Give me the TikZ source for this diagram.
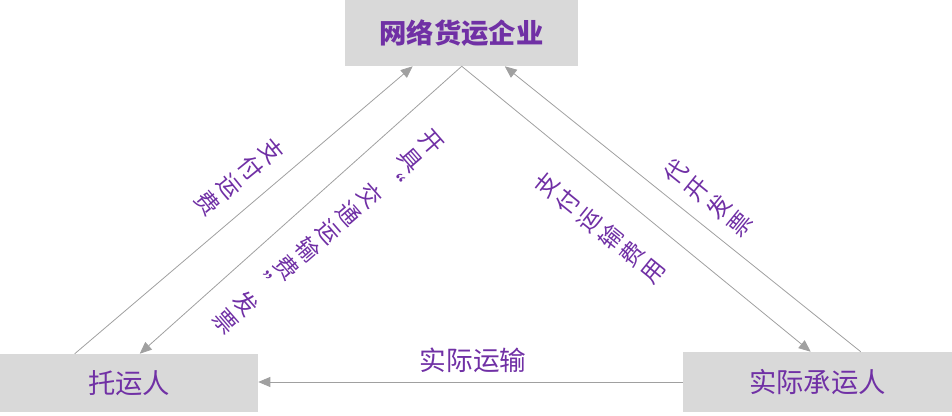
\documentclass[tikz,border=0pt]{standalone}
\usepackage{fontspec}
\newfontfamily\cjk{Noto Sans CJK SC}
\usetikzlibrary{arrows.meta,calc}
\definecolor{txt}{RGB}{112,48,165}
\definecolor{boxfill}{RGB}{217,217,217}
\definecolor{ln}{RGB}{160,160,160}
\begin{document}
\begin{tikzpicture}[x=0.75pt,y=-0.75pt,
  box/.style={fill=boxfill, draw=none, inner sep=0pt, text=txt,
    font=\cjk\fontsize{20.5}{24}\selectfont},
  link/.style={draw=ln, line width=0.6pt,
    -{Triangle[length=9pt,width=7.5pt,fill=ln]}},
  vlab/.style={text=txt, align=center, inner sep=0pt,
    font=\cjk\fontsize{17.5}{20.5}\selectfont},
  hlab/.style={text=txt, inner sep=0pt,
    font=\cjk\fontsize{20}{24}\selectfont}]
\useasboundingbox (0,0) rectangle (952,416);
% boxes
\node[box, minimum width=174.75pt, minimum height=49.5pt] (top) at (461.5,33) {\bfseries 网络货运企业};
\node[box, minimum width=193.5pt, minimum height=43.5pt] (lbox) at (129,383) {托运人};
\node[box, minimum width=201.75pt, minimum height=45pt] (rbox) at (817.5,382) {实际承运人};
% connectors
\draw[link] ($(lbox.north west)+(75,0)$) -- ($(top.south west)+(68,0)$);
\draw[link] ($(top.south west)+(117,0)$) -- ($(lbox.north west)+(140,0)$);
\draw[link] ($(top.south west)+(117,0)$) -- ($(rbox.north west)+(128,0)$);
\draw[link] ($(rbox.north west)+(178,0)$) -- ($(top.south west)+(160,0)$);
\draw[link] (rbox.west) -- (rbox.west -| lbox.east);
% labels
\node[vlab, rotate=-51] (l1) at (240,177) {支\\付\\运\\费};
\node[vlab, rotate=-49] (l2) at (328,232) {开\\具\\“\\交\\通\\运\\输\\费\\”\\发\\票};
\node[vlab, rotate=51] (l3) at (600,228) {支\\付\\运\\输\\费\\用};
\node[vlab, rotate=51] (l4) at (708,198) {代\\开\\发\\票};
\node[hlab] (l5) at (473,360) {实际运输};
\end{tikzpicture}
\end{document}
